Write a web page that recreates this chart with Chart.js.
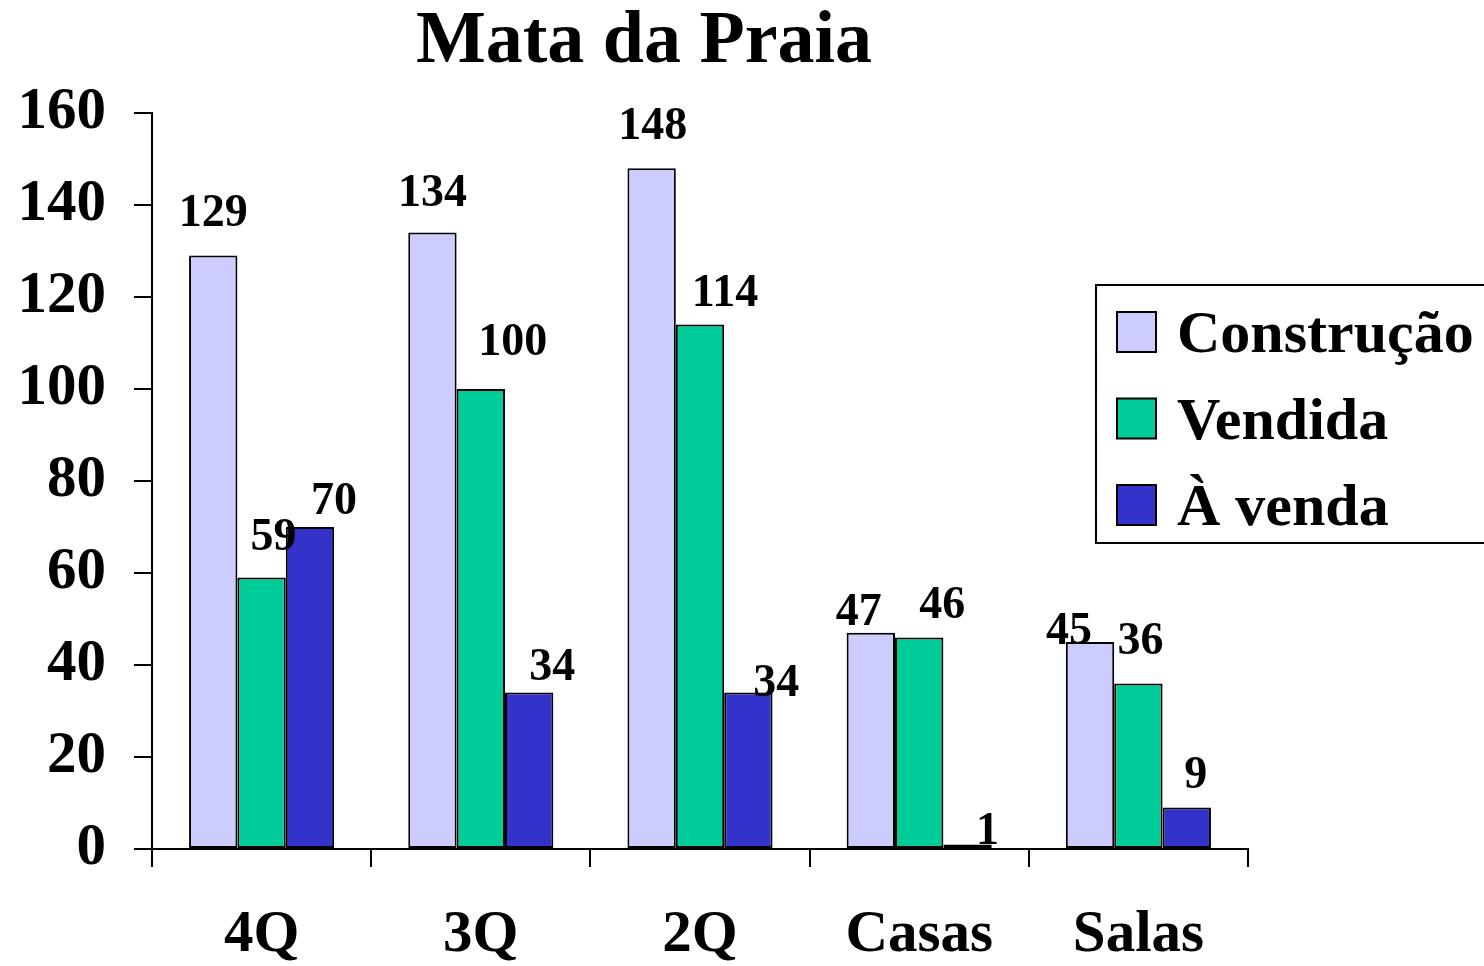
<!DOCTYPE html>
<html lang="pt">
<head>
<meta charset="UTF-8">
<title>Mata da Praia</title>
<script src="https://cdn.jsdelivr.net/npm/chart.js"></script>
<style>
  html, body { margin: 0; padding: 0; background: #fff; }
</style>
</head>
<body>
<canvas id="grafico" width="1484" height="966"></canvas>
<script>
// dados
const categorias = ['4Q', '3Q', '2Q', 'Casas', 'Salas'];
const construcao = [129, 134, 148, 47, 45];
const vendida    = [59, 100, 114, 46, 36];
const aVenda     = [70, 34, 34, 1, 9];
const nomesSeries = ['Construção', 'Vendida', 'À venda'];
const eixoY = { min: 0, max: 160, passo: 20 };

// deslocamento dos rótulos de valor [dx, dy] a partir do topo da barra
const ajusteRotulos = [
  [[0, -46], [0, -43], [1, -45], [-12, -24], [-21, -14]],
  [[12, -44], [32, -50], [25, -35], [23, -35], [2, -45]],
  [[24, -29], [23, -29], [28, -13], [20, -16], [9, -36]]
];

const FONTE = "'Liberation Serif', 'Times New Roman', serif";
const cores = ['#CCCCFF', '#00CC99', '#3333CC'];

// título, rótulos de valor e legenda com moldura
const desenhoExtra = {
  id: 'desenhoExtra',
  afterDatasetsDraw(chart) {
    const ctx = chart.ctx;
    ctx.save();
    ctx.fillStyle = '#000';
    ctx.font = 'bold 46px ' + FONTE;
    ctx.textAlign = 'center';
    ctx.textBaseline = 'alphabetic';
    chart.data.datasets.forEach((ds, i) => {
      chart.getDatasetMeta(i).data.forEach((bar, j) => {
        const [dx, dy] = ajusteRotulos[i][j];
        ctx.fillText(String(ds.data[j]), bar.x + dx, bar.y + dy + 16);
      });
    });
    ctx.restore();
  },
  afterDraw(chart) {
    const ctx = chart.ctx;
    ctx.save();
    // título
    ctx.fillStyle = '#000';
    ctx.font = 'bold 74px ' + FONTE;
    ctx.textAlign = 'center';
    ctx.textBaseline = 'alphabetic';
    ctx.fillText('Mata da Praia', 644, 62);

    // legenda
    ctx.fillStyle = '#fff';
    ctx.fillRect(1096, 285, 400, 258);
    ctx.strokeStyle = '#000';
    ctx.lineWidth = 2;
    ctx.strokeRect(1096, 285, 400, 258);
    ctx.font = 'bold 60px ' + FONTE;
    ctx.textAlign = 'left';
    chart.data.datasets.forEach((ds, i) => {
      const topo = 312 + i * 86.5;
      ctx.fillStyle = ds.backgroundColor;
      ctx.fillRect(1117, topo, 39, 40);
      ctx.lineWidth = 2;
      ctx.strokeRect(1117, topo, 39, 40);
      ctx.fillStyle = '#000';
      ctx.fillText(ds.label, 1177, topo + 40);
    });
    ctx.restore();
  }
};

const series = [construcao, vendida, aVenda];

new Chart(document.getElementById('grafico'), {
  type: 'bar',
  data: {
    labels: categorias,
    datasets: series.map((valores, i) => ({
      label: nomesSeries[i],
      data: valores,
      backgroundColor: cores[i],
      borderColor: '#000',
      borderWidth: 2,
      borderSkipped: false,
      categoryPercentage: 0.662,
      barPercentage: 1.0
    }))
  },
  options: {
    responsive: false,
    animation: false,
    layout: { padding: { top: 113, right: 236, left: 0, bottom: 0 } },
    plugins: {
      legend: { display: false },
      title: { display: false },
      tooltip: { enabled: false }
    },
    scales: {
      x: {
        afterFit(s) { s.height = 117; },
        grid: {
          offset: true,
          drawOnChartArea: false,
          drawTicks: true,
          tickLength: 18,
          color: '#000',
          lineWidth: 2
        },
        border: { display: true, color: '#000', width: 2 },
        ticks: {
          color: '#000',
          padding: 33,
          font: { family: FONTE, size: 59, weight: 'bold' }
        }
      },
      y: {
        min: eixoY.min,
        max: eixoY.max,
        afterFit(s) { s.width = 152; },
        grid: {
          drawOnChartArea: false,
          drawTicks: true,
          tickLength: 18,
          color: '#000',
          lineWidth: 2
        },
        border: { display: true, color: '#000', width: 2 },
        ticks: {
          stepSize: eixoY.passo,
          color: '#000',
          padding: 28,
          font: { family: FONTE, size: 59, weight: 'bold' }
        }
      }
    }
  },
  plugins: [desenhoExtra]
});
</script>
</body>
</html>
